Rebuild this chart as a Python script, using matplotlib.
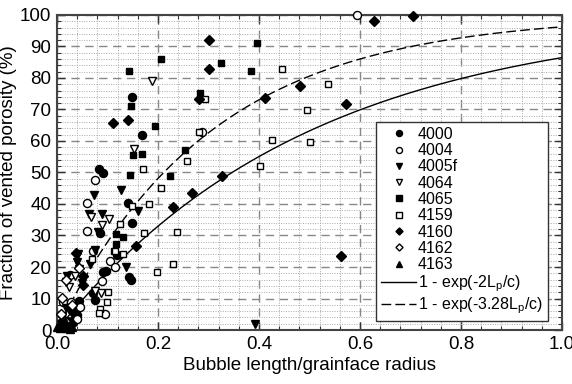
import numpy as np
import matplotlib.pyplot as plt
from matplotlib.ticker import MultipleLocator, FormatStrFormatter

plt.rcParams['font.family'] = ['Liberation Sans', 'DejaVu Sans']

# datos (x = longitud/radio, y = % porosidad venteada)
s4000_x = [0.148, 0.168, 0.083, 0.091, 0.141, 0.149, 0.143, 0.146, 0.085, 0.097,
           0.071, 0.075, 0.044, 0.039, 0.034, 0.119, 0.020, 0.030, 0.010, 0.091]
s4000_y = [74, 62, 51.1, 49.9, 40.3, 34, 16.8, 15.8, 30.8, 18.7,
           11.7, 9.5, 9.2, 4.8, 3.5, 23.8, 3, 6, 1, 18.4]

s4004_x = [0.594, 0.075, 0.060, 0.060, 0.071, 0.105, 0.115, 0.089, 0.095, 0.026,
           0.012, 0.040, 0.046, 0.288, 0.028]
s4004_y = [100, 47.6, 40.3, 31.4, 25, 21.9, 20, 15.6, 5.1, 17.5,
           9, 3.5, 7.3, 62.7, 9]

s4005f_x = [0.392, 0.074, 0.126, 0.160, 0.064, 0.089, 0.081, 0.075, 0.040, 0.020,
            0.137, 0.018, 0.065, 0.050, 0.010, 0.042]
s4005f_y = [1.9, 42.8, 44.3, 37.9, 36.7, 36.8, 31, 25.4, 21.6, 17,
            20, 7, 21, 15, 4, 24]

s4064_x = [0.188, 0.153, 0.067, 0.103, 0.089, 0.024, 0.044, 0.087, 0.076, 0.018, 0.035]
s4064_y = [79, 57.5, 36, 35.3, 33.3, 13.6, 19.4, 11.7, 12.5, 15.2, 17]

s4065_x = [0.142, 0.206, 0.325, 0.384, 0.396, 0.284, 0.147, 0.151, 0.168, 0.194,
           0.254, 0.224, 0.145, 0.117, 0.131, 0.117, 0.113]
s4065_y = [82.2, 86, 84.8, 82.2, 91.2, 75.2, 71.2, 55.6, 56, 64.6,
           57.2, 48.9, 49.2, 30.5, 29.5, 27.3, 25]

s4159_x = [0.445, 0.293, 0.281, 0.257, 0.171, 0.206, 0.537, 0.495, 0.500, 0.425,
           0.402, 0.182, 0.149, 0.125, 0.172, 0.237, 0.131, 0.115, 0.230, 0.197,
           0.070, 0.101, 0.098, 0.086, 0.083]
s4159_y = [82.8, 73.3, 62.9, 53.7, 51.1, 45.1, 78.1, 69.8, 59.7, 60.3,
           52.1, 40, 39.4, 33.7, 30.8, 31.1, 24.1, 25, 20.9, 18.5,
           22.4, 12, 8.8, 6.6, 5.5]

s4160_x = [0.628, 0.705, 0.481, 0.573, 0.562, 0.300, 0.301, 0.281, 0.412, 0.111,
           0.141, 0.267, 0.327, 0.229, 0.157, 0.038, 0.052, 0.052, 0.030, 0.020, 0.010]
s4160_y = [98.1, 99.7, 77.6, 71.6, 23.5, 92, 82.8, 73.3, 73.8, 65.6,
           66.7, 43.6, 48.9, 39.1, 26.7, 24.4, 17.2, 14.3, 2, 1, 3]

s4162_x = [0.017, 0.010, 0.008, 0.044, 0.015, 0.030]
s4162_y = [15.9, 10.2, 5, 19.7, 3, 8]

s4163_x = [0.005, 0.010, 0.010, 0.020, 0.015, 0.030, 0.025, 0.005, 0.000, 0.018]
s4163_y = [0.5, 1, 2.5, 0.5, 3, 1, 0.2, 2, 1, 1.5]

# coeficientes de los ajustes 1 - exp(-k L/c)
k_solid = 2.0
k_dash = 3.28

fig = plt.figure(figsize=(5.72, 3.84), dpi=100)
ax = fig.add_axes([0.0997, 0.1406, 0.8828, 0.8204])

series = [
    ('4000', s4000_x, s4000_y, 'o', 'k', 5.8),
    ('4004', s4004_x, s4004_y, 'o', 'w', 5.8),
    ('4005f', s4005f_x, s4005f_y, 'v', 'k', 6.2),
    ('4064', s4064_x, s4064_y, 'v', 'w', 6.2),
    ('4065', s4065_x, s4065_y, 's', 'k', 5),
    ('4159', s4159_x, s4159_y, 's', 'w', 5),
    ('4160', s4160_x, s4160_y, 'D', 'k', 4.8),
    ('4162', s4162_x, s4162_y, 'D', 'w', 4.8),
    ('4163', s4163_x, s4163_y, '^', 'k', 6.2),
]
for lab, xs, ys, m, fc, ms in series:
    ax.plot(xs, ys, linestyle='none', marker=m, markerfacecolor=fc,
            markeredgecolor='k', markeredgewidth=1, markersize=ms, label=lab,
            clip_on=False, zorder=4)

xx = np.linspace(0, 1, 300)
ax.plot(xx, 100 * (1 - np.exp(-k_solid * xx)), color='k', lw=1,
        label='1 - exp(-2L$_\\mathregular{p}$/c)', zorder=3)
ax.plot(xx, 100 * (1 - np.exp(-k_dash * xx)), color='k', lw=1, dashes=(7, 3),
        label='1 - exp(-3.28L$_\\mathregular{p}$/c)', zorder=3)

ax.set_xlim(0, 1)
ax.set_ylim(0, 100)
ax.xaxis.set_major_locator(MultipleLocator(0.2))
ax.xaxis.set_minor_locator(MultipleLocator(0.04))
ax.xaxis.set_major_formatter(FormatStrFormatter('%.1f'))
ax.yaxis.set_major_locator(MultipleLocator(10))
ax.yaxis.set_minor_locator(MultipleLocator(2))

ax.grid(which='major', color='#888888', linestyle=(0, (6, 4)), linewidth=1)
ax.grid(which='minor', color='#aaaaaa', linestyle=(0, (1, 1.5)), linewidth=0.7)
ax.set_axisbelow(True)

ax.tick_params(which='both', direction='in', top=True, right=True, labelsize=13.5,
               color='#333333')
ax.tick_params(which='major', length=6, width=1, pad=4)
ax.tick_params(which='minor', length=3, width=0.8)
for sp in ax.spines.values():
    sp.set_linewidth(1.5)
    sp.set_color('#444444')

ax.set_xlabel('Bubble length/grainface radius', fontsize=13.5, labelpad=3)
ax.set_ylabel('Fraction of vented porosity (%)', fontsize=13.5, labelpad=2)

leg = ax.legend(loc='upper left', bbox_to_anchor=(0.632, 0.66), fontsize=11.5,
                frameon=True, fancybox=False, framealpha=1, edgecolor='#333333',
                handlelength=2.2, handletextpad=0.1, labelspacing=0.08,
                borderpad=0.3, borderaxespad=0, markerscale=0.75)
leg.get_frame().set_linewidth(1)

plt.savefig('out.png', dpi=100)
